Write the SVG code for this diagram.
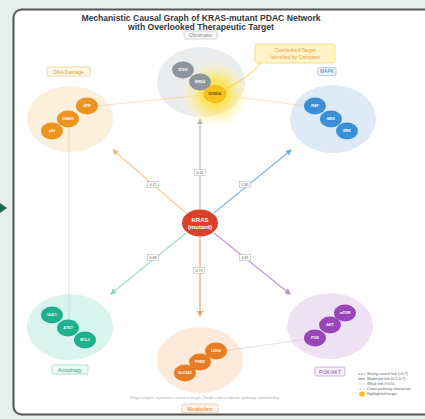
<svg xmlns="http://www.w3.org/2000/svg" width="425" height="419" viewBox="0 0 425 419">
<style>
text{font-family:"Liberation Sans",Arial,sans-serif}
.title{font-size:8.6px;font-weight:bold;fill:#34383d;text-anchor:middle}
.nl{font-size:3.6px;fill:#fff;text-anchor:middle;font-weight:bold}
.el{font-size:3.6px;fill:#555;text-anchor:middle}
.lbl{font-size:5px;text-anchor:middle}
.leg{font-size:3.8px;fill:#666}
.cross{stroke-width:0.8;fill:none;opacity:0.6}
.main{stroke-width:1.5;fill:none}
</style>
<defs>
<radialGradient id="glow" cx="50%" cy="50%" r="50%">
<stop offset="0" stop-color="#ffd800" stop-opacity="1"/>
<stop offset="0.45" stop-color="#ffe44a" stop-opacity="0.75"/>
<stop offset="0.8" stop-color="#fff3a0" stop-opacity="0.35"/>
<stop offset="1" stop-color="#fffbe0" stop-opacity="0"/>
</radialGradient>
<marker id="aGray" markerWidth="6" markerHeight="6" refX="5" refY="3" orient="auto" markerUnits="userSpaceOnUse"><path d="M0,0 L6,3 L0,6 z" fill="#b5b5b5"/></marker>
<marker id="aOr" markerWidth="6" markerHeight="6" refX="5" refY="3" orient="auto" markerUnits="userSpaceOnUse"><path d="M0,0 L6,3 L0,6 z" fill="#f0b980"/></marker>
<marker id="aBl" markerWidth="6" markerHeight="6" refX="5" refY="3" orient="auto" markerUnits="userSpaceOnUse"><path d="M0,0 L6,3 L0,6 z" fill="#6aaedc"/></marker>
<marker id="aTe" markerWidth="6" markerHeight="6" refX="5" refY="3" orient="auto" markerUnits="userSpaceOnUse"><path d="M0,0 L6,3 L0,6 z" fill="#8fd3c5"/></marker>
<marker id="aPu" markerWidth="6" markerHeight="6" refX="5" refY="3" orient="auto" markerUnits="userSpaceOnUse"><path d="M0,0 L6,3 L0,6 z" fill="#b58bd0"/></marker>
<marker id="aDo" markerWidth="6" markerHeight="6" refX="5" refY="3" orient="auto" markerUnits="userSpaceOnUse"><path d="M0,0 L6,3 L0,6 z" fill="#f0a060"/></marker>
</defs>

<rect x="0" y="0" width="425" height="419" fill="#e6efeb"/>
<path d="M0,203 L7,208 L0,213 z" fill="#1d6b4a"/>
<rect x="13.5" y="9.5" width="430" height="405" rx="8" fill="#ffffff" stroke="#555" stroke-width="2"/>

<text class="title" x="201" y="21">Mechanistic Causal Graph of KRAS-mutant PDAC Network</text>
<text class="title" x="201" y="30">with Overlooked Therapeutic Target</text>

<g id="cluster-bg">
<ellipse cx="201" cy="82" rx="44" ry="35" fill="#e9ebed"/>
<ellipse cx="70" cy="119" rx="43" ry="33" fill="#fcf0dc"/>
<ellipse cx="333" cy="119" rx="43" ry="34" fill="#deebf6"/>
<ellipse cx="70" cy="327" rx="43" ry="33" fill="#d9f3ed"/>
<ellipse cx="200" cy="360" rx="43" ry="33" fill="#fdeadb"/>
<ellipse cx="330" cy="326" rx="43" ry="33" fill="#efe2f4"/>
</g>

<g id="connectors">
<line class="cross" x1="87" y1="107" x2="213" y2="94" stroke="#f2c27a"/>
<line class="cross" x1="217" y1="95" x2="316" y2="107" stroke="#f2c27a"/>
<line class="cross" x1="69" y1="120" x2="69" y2="327" stroke="#bbbbbb"/>
<line class="cross" x1="216" y1="352" x2="315" y2="338" stroke="#c9b3d6"/>
<line class="main" x1="200" y1="209" x2="200" y2="119" stroke="#c9c9c9" marker-end="url(#aGray)"/>
<line class="main" x1="186" y1="213" x2="113" y2="150" stroke="#f5cfa2" marker-end="url(#aOr)"/>
<line class="main" x1="214" y1="213" x2="291" y2="150" stroke="#8ec0e2" marker-end="url(#aBl)"/>
<line class="main" x1="186" y1="233" x2="111" y2="294" stroke="#a6dcd0" marker-end="url(#aTe)"/>
<line class="main" x1="214" y1="233" x2="290" y2="294" stroke="#c4a0da" marker-end="url(#aPu)"/>
<line class="main" x1="200" y1="237" x2="200" y2="316" stroke="#f3b483" marker-end="url(#aDo)"/>
<g id="edge-labels">
<rect x="194.5" y="169.5" width="11" height="6" fill="#fff" stroke="#999" stroke-width="0.4"/><text class="el" x="200" y="173.8">0.55</text>
<rect x="147.5" y="181.5" width="11" height="6" fill="#fff" stroke="#999" stroke-width="0.4"/><text class="el" x="153" y="185.8">0.72</text>
<rect x="239.5" y="181.5" width="11" height="6" fill="#fff" stroke="#999" stroke-width="0.4"/><text class="el" x="245" y="185.8">0.85</text>
<rect x="147.5" y="254.5" width="11" height="6" fill="#fff" stroke="#999" stroke-width="0.4"/><text class="el" x="153" y="258.8">0.68</text>
<rect x="239.5" y="254.5" width="11" height="6" fill="#fff" stroke="#999" stroke-width="0.4"/><text class="el" x="245" y="258.8">0.81</text>
<rect x="193.5" y="267.5" width="11" height="6" fill="#fff" stroke="#999" stroke-width="0.4"/><text class="el" x="199" y="271.8">0.75</text>
</g>
</g>

<g id="chromatin">
<rect x="184" y="31" width="33" height="8" rx="1.5" fill="#f7f7f7" stroke="#aaa" stroke-width="0.5"/>
<text class="lbl" x="200.5" y="37" fill="#888">Chromatin</text>
<circle cx="215" cy="94" r="34" fill="url(#glow)"/>
<ellipse cx="183" cy="70" rx="11" ry="8.5" fill="#8d959c"/><text class="nl" x="183" y="71.3">EZH2</text>
<ellipse cx="200" cy="82" rx="11" ry="8.5" fill="#8d959c"/><text class="nl" x="200" y="83.3">BRD4</text>
<ellipse cx="215" cy="94" rx="11" ry="8.5" fill="#f5c21b" stroke="#eaa800" stroke-width="0.6"/><text class="nl" x="215" y="95.3" style="fill:#7a4b00">KDM6A</text>
</g>

<g id="callout">
<path d="M262,62 Q246,80 223,90" fill="none" stroke="#f5cf3a" stroke-width="1"/>
<rect x="255" y="44" width="80" height="19" rx="2" fill="#fff3c8" stroke="#f5d870" stroke-width="0.8"/>
<text class="lbl" x="295" y="52" fill="#e8a040">Overlooked Target</text>
<text class="lbl" x="295" y="59" fill="#e8a040">Identified by Compass</text>
</g>

<g id="dna-damage">
<rect x="47" y="67" width="43" height="9" rx="1.5" fill="#fff8e6" stroke="#e9bf72" stroke-width="0.6"/>
<text class="lbl" x="68.5" y="73.5" fill="#e09a3a">DNA Damage</text>
<ellipse cx="87" cy="106" rx="11" ry="8.5" fill="#ec9420"/><text class="nl" x="87" y="107.3">ATR</text>
<ellipse cx="68" cy="119" rx="11" ry="8.5" fill="#ec9420"/><text class="nl" x="68" y="120.3">CHEK1</text>
<ellipse cx="52" cy="131" rx="11" ry="8.5" fill="#ec9420"/><text class="nl" x="52" y="132.3">p53</text>
</g>

<g id="mapk">
<rect x="318" y="67.5" width="18" height="8" rx="1.5" fill="#eef5fc" stroke="#7fb0dc" stroke-width="0.6"/>
<text class="lbl" x="327" y="73.3" fill="#3d86c6">MAPK</text>
<ellipse cx="315" cy="106" rx="11" ry="8.5" fill="#3b8fd6"/><text class="nl" x="315" y="107.3">RAF</text>
<ellipse cx="331" cy="119" rx="11" ry="8.5" fill="#3b8fd6"/><text class="nl" x="331" y="120.3">MEK</text>
<ellipse cx="347" cy="131" rx="11" ry="8.5" fill="#3b8fd6"/><text class="nl" x="347" y="132.3">ERK</text>
</g>

<g id="kras">
<ellipse cx="200" cy="223" rx="18" ry="13.5" fill="#dc3f2a"/>
<text x="200" y="221.5" text-anchor="middle" font-size="6" font-weight="bold" fill="#fff">KRAS</text>
<text x="200" y="229" text-anchor="middle" font-size="6" font-weight="bold" fill="#fff">(mutant)</text>
</g>

<g id="autophagy">
<rect x="52" y="365" width="36" height="9" rx="1.5" fill="#effaf7" stroke="#7ccfbc" stroke-width="0.6"/>
<text class="lbl" x="70" y="371.5" fill="#2aa589">Autophagy</text>
<ellipse cx="52" cy="315" rx="11" ry="8.5" fill="#1fb08d"/><text class="nl" x="52" y="316.3">ULK1</text>
<ellipse cx="68" cy="328" rx="11" ry="8.5" fill="#1fb08d"/><text class="nl" x="68" y="329.3">ATG7</text>
<ellipse cx="85" cy="340" rx="11" ry="8.5" fill="#1fb08d"/><text class="nl" x="85" y="341.3">BCL2</text>
</g>

<g id="metabolism">
<rect x="182" y="404" width="36" height="9" rx="1.5" fill="#fff4ea" stroke="#eab07c" stroke-width="0.6"/>
<text class="lbl" x="200" y="410.5" fill="#e07a2a">Metabolism</text>
<ellipse cx="216" cy="351" rx="11" ry="8.5" fill="#e67d24"/><text class="nl" x="216" y="352.3">LDHA</text>
<ellipse cx="200" cy="362" rx="11" ry="8.5" fill="#e67d24"/><text class="nl" x="200" y="363.3">PKM2</text>
<ellipse cx="185" cy="373" rx="11" ry="8.5" fill="#e67d24"/><text class="nl" x="185" y="374.3">SLC2A1</text>
</g>

<g id="pi3k-akt">
<rect x="315" y="367" width="30" height="9" rx="1.5" fill="#f7f0fb" stroke="#b48ad0" stroke-width="0.6"/>
<text class="lbl" x="330" y="373.5" fill="#9250b8">PI3K/AKT</text>
<ellipse cx="345" cy="313" rx="11" ry="8.5" fill="#9a45b8"/><text class="nl" x="345" y="314.3">mTOR</text>
<ellipse cx="330" cy="325" rx="11" ry="8.5" fill="#9a45b8"/><text class="nl" x="330" y="326.3">AKT</text>
<ellipse cx="315" cy="338" rx="11" ry="8.5" fill="#9a45b8"/><text class="nl" x="315" y="339.3">PI3K</text>
</g>

<text x="205" y="399" text-anchor="middle" font-size="4" fill="#b0b0b0">Edge weights represent causal strength | Node colors indicate pathway membership</text>

<g id="legend">
<line x1="358" y1="374" x2="365" y2="374" stroke="#888" stroke-width="1.2" stroke-dasharray="2,1"/>
<text class="leg" x="367" y="375.3">Strong causal link (&gt;0.7)</text>
<line x1="358" y1="379" x2="365" y2="379" stroke="#666" stroke-width="0.8"/>
<text class="leg" x="367" y="380.3">Moderate link (0.5-0.7)</text>
<line x1="358" y1="384" x2="365" y2="384" stroke="#aaa" stroke-width="0.4"/>
<text class="leg" x="367" y="385.3">Weak link (&lt;0.5)</text>
<line x1="358" y1="389" x2="365" y2="389" stroke="#888" stroke-width="0.6" stroke-dasharray="1,1"/>
<text class="leg" x="367" y="390.3">Cross-pathway interaction</text>
<circle cx="362" cy="394" r="2.8" fill="#f5c21b"/>
<text class="leg" x="367" y="395.3">Highlighted target</text>
</g>
</svg>
